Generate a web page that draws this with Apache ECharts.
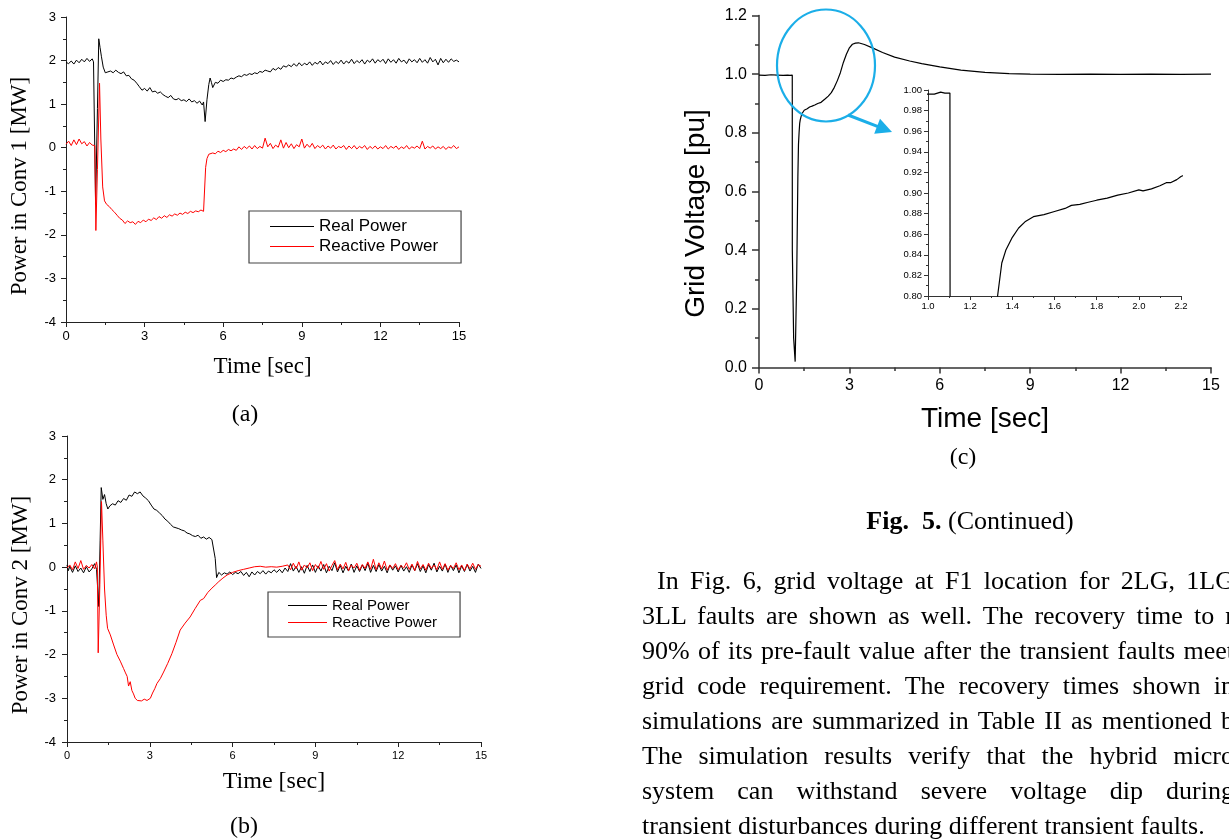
<!DOCTYPE html>
<html><head><meta charset="utf-8">
<script src="https://cdn.jsdelivr.net/npm/echarts@6/dist/echarts.min.js"></script>
<style>
html,body{margin:0;padding:0;background:#fff;overflow:hidden;width:1229px;height:839px;}
#chart{position:absolute;left:0;top:0;width:1229px;height:839px;}
.txt{position:absolute;font-family:'Liberation Serif','Times New Roman',serif;color:#000;white-space:nowrap;transform:translate(-50%,-50%);}
.cap{font-size:24px;line-height:24px;}
#para{position:absolute;left:642px;top:563px;width:592px;font-family:'Liberation Serif','Times New Roman',serif;font-size:26px;line-height:35px;color:#000;}
#para div{text-align:justify;text-align-last:justify;height:35px;}
#para div.first{text-indent:15px;}
#para div.last{text-align:left;text-align-last:left;}
</style></head>
<body>
<div id="chart"></div>
<div class="txt cap" style="left:245px;top:413px;">(a)</div>
<div class="txt cap" style="left:244px;top:825px;">(b)</div>
<div class="txt cap" style="left:963px;top:456px;">(c)</div>
<div class="txt" style="left:970px;top:521px;font-size:26px;line-height:26px;"><b>Fig.&nbsp; 5.</b> (Continued)</div>
<div id="para">
<div class="first">In Fig. 6, grid voltage at F1 location for 2LG, 1LG</div>
<div>3LL faults are shown as well. The recovery time to r</div>
<div>90% of its pre-fault value after the transient faults meet</div>
<div>grid code requirement. The recovery times shown in</div>
<div>simulations are summarized in Table II as mentioned b</div>
<div>The simulation results verify that the hybrid micro</div>
<div>system can withstand severe voltage dip during</div>
<div class="last">transient disturbances during different transient faults.</div>
</div>
<script>
// ---------- data (time [s], value) ----------
const realConv1 = [[0,1.96],[0.1,1.93],[0.2,1.99],[0.3,1.92],[0.4,2.01],[0.5,1.95],[0.6,2.03],[0.7,1.97],[0.8,2.05],[0.9,1.98],[1.0,2.04],[1.05,1.97],[1.10,1.96],[1.13,-1.30],[1.20,0.90],[1.25,2.50],[1.30,2.30],[1.35,2.10],[1.42,1.85],[1.50,1.72],[1.6,1.74],[1.7,1.76],[1.8,1.72],[1.9,1.78],[2.0,1.73],[2.1,1.70],[2.2,1.74],[2.3,1.65],[2.4,1.66],[2.5,1.58],[2.6,1.55],[2.7,1.48],[2.8,1.40],[2.9,1.32],[3.0,1.36],[3.1,1.30],[3.2,1.38],[3.3,1.28],[3.4,1.30],[3.5,1.25],[3.6,1.28],[3.7,1.22],[3.8,1.18],[3.9,1.15],[4.0,1.20],[4.1,1.12],[4.2,1.10],[4.3,1.13],[4.4,1.08],[4.5,1.10],[4.6,1.06],[4.7,1.12],[4.8,1.05],[4.9,1.08],[5.0,1.02],[5.1,1.07],[5.2,0.98],[5.25,1.05],[5.31,0.60],[5.38,1.10],[5.45,1.45],[5.5,1.60],[5.55,1.50],[5.6,1.38],[5.7,1.50],[5.8,1.48],[5.9,1.55],[6.0,1.52],[6.1,1.56],[6.2,1.55],[6.3,1.60],[6.4,1.58],[6.5,1.62],[6.6,1.65],[6.7,1.63],[6.8,1.68],[6.9,1.66],[7.0,1.70],[7.1,1.68],[7.2,1.72],[7.3,1.70],[7.4,1.75],[7.5,1.73],[7.6,1.78],[7.7,1.76],[7.8,1.74],[7.9,1.82],[8.0,1.78],[8.1,1.84],[8.2,1.80],[8.3,1.88],[8.4,1.85],[8.5,1.90],[8.6,1.86],[8.7,1.93],[8.8,1.87],[8.9,1.95],[9.0,1.88],[9.1,1.94],[9.2,1.90],[9.3,1.97],[9.4,1.89],[9.5,1.96],[9.6,1.92],[9.7,1.99],[9.8,1.90],[9.9,1.97],[10.0,1.93],[10.1,2.00],[10.2,1.91],[10.3,1.98],[10.4,1.93],[10.5,2.01],[10.6,1.92],[10.7,1.99],[10.8,1.94],[10.9,2.03],[11.0,1.93],[11.1,2.00],[11.2,1.95],[11.3,2.02],[11.4,1.92],[11.5,2.01],[11.6,1.96],[11.7,2.04],[11.8,1.94],[11.9,2.02],[12.0,1.97],[12.1,2.03],[12.2,1.93],[12.3,2.04],[12.4,1.96],[12.5,2.02],[12.6,1.94],[12.7,2.05],[12.8,1.97],[12.9,2.01],[13.0,1.93],[13.1,2.04],[13.2,1.97],[13.3,2.02],[13.4,1.95],[13.5,2.05],[13.6,1.96],[13.7,2.02],[13.8,1.94],[13.9,2.07],[14.0,1.97],[14.1,2.03],[14.2,1.90],[14.3,2.05],[14.4,1.95],[14.5,2.03],[14.6,1.96],[14.7,2.04],[14.8,1.98],[14.9,2.01],[15.0,1.97]];

const reactiveConv1 = [[0,0.08],[0.1,0.15],[0.2,0.05],[0.3,0.18],[0.4,0.07],[0.5,0.20],[0.6,0.09],[0.7,0.14],[0.8,0.04],[0.9,0.12],[1.0,0.06],[1.07,0.10],[1.10,0.05],[1.14,-1.90],[1.20,-0.50],[1.28,1.48],[1.33,0.20],[1.40,-0.90],[1.47,-1.22],[1.55,-1.30],[1.65,-1.35],[1.75,-1.42],[1.85,-1.48],[1.95,-1.55],[2.05,-1.62],[2.15,-1.66],[2.25,-1.74],[2.35,-1.68],[2.45,-1.72],[2.55,-1.70],[2.65,-1.76],[2.75,-1.69],[2.85,-1.72],[2.95,-1.66],[3.05,-1.70],[3.15,-1.64],[3.25,-1.67],[3.35,-1.61],[3.45,-1.65],[3.55,-1.58],[3.65,-1.62],[3.75,-1.56],[3.85,-1.60],[3.95,-1.54],[4.05,-1.57],[4.15,-1.52],[4.25,-1.55],[4.35,-1.50],[4.45,-1.53],[4.55,-1.48],[4.65,-1.51],[4.75,-1.46],[4.85,-1.49],[4.95,-1.45],[5.05,-1.47],[5.15,-1.43],[5.25,-1.46],[5.30,-1.45],[5.33,-0.45],[5.38,-0.25],[5.45,-0.15],[5.5,-0.18],[5.6,-0.12],[5.7,-0.14],[5.8,-0.08],[5.9,-0.11],[6.0,-0.06],[6.1,-0.09],[6.2,-0.04],[6.3,-0.07],[6.4,-0.03],[6.5,-0.06],[6.6,0.02],[6.7,-0.04],[6.8,0.03],[6.9,-0.02],[7.0,0.04],[7.1,-0.03],[7.2,0.05],[7.3,-0.02],[7.4,0.03],[7.5,-0.01],[7.6,0.22],[7.7,0.02],[7.8,0.10],[7.9,-0.02],[8.0,0.06],[8.1,0.01],[8.2,0.18],[8.3,-0.01],[8.4,0.12],[8.5,0.00],[8.6,0.09],[8.7,-0.02],[8.8,0.07],[8.9,0.02],[9.0,0.20],[9.1,-0.01],[9.2,0.08],[9.3,0.01],[9.4,0.10],[9.5,-0.02],[9.6,0.05],[9.7,0.00],[9.8,0.06],[9.9,-0.03],[10.0,0.04],[10.1,-0.01],[10.2,0.06],[10.3,-0.03],[10.4,0.03],[10.5,0.00],[10.6,0.05],[10.7,-0.04],[10.8,0.04],[10.9,-0.02],[11.0,0.05],[11.1,-0.03],[11.2,0.03],[11.3,-0.01],[11.4,0.05],[11.5,-0.04],[11.6,0.03],[11.7,-0.02],[11.8,0.04],[11.9,-0.03],[12.0,0.02],[12.1,-0.02],[12.2,0.05],[12.3,-0.03],[12.4,0.03],[12.5,-0.01],[12.6,0.04],[12.7,-0.04],[12.8,0.02],[12.9,-0.02],[13.0,0.05],[13.1,-0.03],[13.2,0.02],[13.3,-0.01],[13.4,0.04],[13.5,-0.02],[13.6,0.15],[13.7,-0.03],[13.8,0.03],[13.9,-0.01],[14.0,0.04],[14.1,-0.03],[14.2,0.02],[14.3,-0.02],[14.4,0.03],[14.5,-0.04],[14.6,0.02],[14.7,-0.01],[14.8,0.05],[14.9,-0.02],[15.0,0.02]];

const realConv2 = [[0,0.05],[0.05,-0.08],[0.1,0.02],[0.2,-0.12],[0.3,0.03],[0.4,-0.10],[0.5,-0.02],[0.6,-0.13],[0.7,0.01],[0.8,-0.11],[0.9,-0.04],[1.0,0.08],[1.07,-0.05],[1.10,-0.02],[1.15,-0.90],[1.20,0.60],[1.24,1.82],[1.30,1.55],[1.36,1.66],[1.42,1.45],[1.48,1.33],[1.55,1.40],[1.65,1.45],[1.75,1.42],[1.85,1.52],[1.95,1.48],[2.05,1.57],[2.15,1.53],[2.25,1.65],[2.35,1.62],[2.45,1.72],[2.55,1.68],[2.65,1.72],[2.75,1.63],[2.85,1.58],[2.95,1.52],[3.05,1.42],[3.15,1.33],[3.25,1.30],[3.35,1.24],[3.45,1.18],[3.55,1.10],[3.65,1.05],[3.75,0.98],[3.85,0.92],[3.95,0.90],[4.05,0.88],[4.15,0.85],[4.25,0.83],[4.35,0.78],[4.45,0.76],[4.55,0.72],[4.65,0.70],[4.75,0.73],[4.85,0.66],[4.95,0.69],[5.05,0.64],[5.15,0.68],[5.25,0.63],[5.32,0.66],[5.37,0.20],[5.42,-0.24],[5.5,-0.12],[5.6,-0.18],[5.7,-0.13],[5.8,-0.16],[5.9,-0.11],[6.0,-0.17],[6.1,-0.12],[6.2,-0.15],[6.3,-0.10],[6.4,-0.19],[6.5,-0.12],[6.6,-0.22],[6.7,-0.11],[6.8,-0.18],[6.9,-0.10],[7.0,-0.15],[7.1,-0.08],[7.2,-0.16],[7.3,-0.09],[7.4,-0.13],[7.5,-0.06],[7.6,-0.12],[7.7,-0.05],[7.8,-0.13],[7.9,-0.02],[8.0,-0.10],[8.1,0.08],[8.2,-0.09],[8.3,0.02],[8.4,-0.12],[8.5,0.01],[8.6,-0.14],[8.7,0.04],[8.8,-0.10],[8.9,0.05],[9.0,-0.12],[9.1,0.03],[9.2,-0.09],[9.3,0.06],[9.4,-0.13],[9.5,0.02],[9.6,-0.08],[9.7,0.10],[9.8,-0.11],[9.9,0.04],[10.0,-0.13],[10.1,0.02],[10.2,-0.09],[10.3,0.07],[10.4,-0.12],[10.5,0.03],[10.6,-0.10],[10.7,0.05],[10.8,-0.08],[10.9,0.09],[11.0,-0.12],[11.1,0.04],[11.2,-0.10],[11.3,0.06],[11.4,-0.09],[11.5,0.02],[11.6,-0.13],[11.7,0.05],[11.8,-0.07],[11.9,0.03],[12.0,-0.11],[12.1,0.04],[12.2,-0.09],[12.3,0.01],[12.4,-0.12],[12.5,0.05],[12.6,-0.08],[12.7,0.08],[12.8,-0.10],[12.9,0.03],[13.0,-0.13],[13.1,0.06],[13.2,-0.07],[13.3,0.09],[13.4,-0.11],[13.5,0.02],[13.6,-0.09],[13.7,0.07],[13.8,-0.12],[13.9,0.04],[14.0,-0.08],[14.1,0.05],[14.2,-0.13],[14.3,0.03],[14.4,-0.10],[14.5,0.06],[14.6,-0.09],[14.7,0.02],[14.8,-0.12],[14.9,0.07],[15.0,-0.03]];

const reactiveConv2 = [[0,-0.02],[0.1,0.05],[0.2,-0.06],[0.3,0.12],[0.4,-0.03],[0.5,0.15],[0.6,-0.05],[0.7,0.04],[0.8,-0.02],[0.9,0.06],[1.0,-0.04],[1.07,0.12],[1.10,0.00],[1.13,-1.96],[1.19,-0.40],[1.25,1.50],[1.30,0.60],[1.36,-0.50],[1.42,-1.10],[1.47,-1.40],[1.57,-1.55],[1.69,-1.78],[1.81,-2.00],[1.93,-2.15],[2.05,-2.32],[2.12,-2.42],[2.18,-2.50],[2.23,-2.72],[2.29,-2.62],[2.35,-2.82],[2.41,-2.90],[2.47,-3.00],[2.55,-3.05],[2.62,-3.02],[2.70,-3.06],[2.80,-3.02],[2.90,-3.05],[3.02,-3.00],[3.10,-2.88],[3.18,-2.78],[3.26,-2.66],[3.38,-2.55],[3.50,-2.40],[3.65,-2.20],[3.80,-1.98],[3.95,-1.72],[4.10,-1.44],[4.28,-1.28],[4.46,-1.14],[4.64,-0.95],[4.83,-0.76],[4.95,-0.72],[5.10,-0.58],[5.25,-0.48],[5.37,-0.41],[5.50,-0.33],[5.65,-0.25],[5.80,-0.18],[6.0,-0.12],[6.2,-0.08],[6.4,-0.05],[6.6,-0.02],[6.8,0.01],[7.0,0.02],[7.2,0.00],[7.4,0.01],[7.6,0.00],[7.8,0.02],[8.0,0.05],[8.1,-0.06],[8.2,0.09],[8.3,-0.04],[8.4,0.12],[8.5,-0.07],[8.6,0.05],[8.7,-0.02],[8.8,0.10],[8.9,-0.08],[9.0,0.06],[9.1,-0.03],[9.2,0.13],[9.3,-0.05],[9.4,0.08],[9.5,-0.09],[9.6,0.04],[9.7,0.15],[9.8,-0.06],[9.9,0.07],[10.0,-0.04],[10.1,0.11],[10.2,-0.08],[10.3,0.05],[10.4,-0.02],[10.5,0.09],[10.6,-0.07],[10.7,0.06],[10.8,-0.03],[10.9,0.12],[11.0,-0.05],[11.1,0.18],[11.2,-0.06],[11.3,0.10],[11.4,-0.04],[11.5,0.14],[11.6,-0.07],[11.7,0.05],[11.8,-0.03],[11.9,0.08],[12.0,-0.06],[12.1,0.04],[12.2,-0.02],[12.3,0.10],[12.4,-0.05],[12.5,0.07],[12.6,-0.08],[12.7,0.13],[12.8,-0.04],[12.9,0.06],[13.0,-0.07],[13.1,0.09],[13.2,-0.03],[13.3,0.05],[13.4,-0.06],[13.5,0.12],[13.6,-0.05],[13.7,0.08],[13.8,-0.07],[13.9,0.04],[14.0,-0.03],[14.1,0.10],[14.2,-0.06],[14.3,0.05],[14.4,-0.08],[14.5,0.07],[14.6,-0.04],[14.7,0.09],[14.8,-0.05],[14.9,0.06],[15.0,0.02]];

const gridVoltage = [[0,0.997],[0.2,0.996],[0.4,0.998],[0.6,0.997],[0.8,0.996],[0.95,0.997],[1.0,0.996],[1.03,0.996],[1.06,0.998],[1.08,0.997],[1.104,0.997],[1.106,0.40],[1.15,0.10],[1.20,0.02],[1.25,0.30],[1.29,0.65],[1.31,0.76],[1.33,0.80],[1.35,0.832],[1.37,0.845],[1.40,0.857],[1.43,0.866],[1.46,0.872],[1.50,0.877],[1.55,0.879],[1.60,0.882],[1.65,0.885],[1.68,0.888],[1.72,0.889],[1.76,0.891],[1.80,0.893],[1.85,0.895],[1.90,0.898],[1.95,0.900],[2.00,0.903],[2.02,0.902],[2.06,0.904],[2.10,0.907],[2.13,0.910],[2.15,0.910],[2.18,0.913],[2.20,0.916],[2.3,0.925],[2.4,0.937],[2.5,0.955],[2.6,0.978],[2.7,1.005],[2.8,1.040],[2.9,1.068],[3.0,1.090],[3.1,1.102],[3.2,1.106],[3.3,1.107],[3.5,1.101],[3.8,1.088],[4.1,1.074],[4.5,1.058],[5.0,1.045],[5.4,1.036],[6.0,1.025],[6.7,1.014],[7.5,1.006],[8.3,1.002],[9.0,1.000],[10,0.999],[11,1.000],[12,0.999],[13,1.000],[14,0.999],[15,1.000]];

const legendNames = ['Real Power', 'Reactive Power'];
const timeTicks = {min:0, max:15, interval:3};

// ---------- chart ----------
const SANS = "'Liberation Sans', Arial, sans-serif";
const SERIF = "'Liberation Serif', 'Times New Roman', serif";

function mkAxis(gridIndex, min, max, interval, o) {
  return {
    type:'value', gridIndex, min, max, interval,
    axisLine:{show:true, onZero:false, lineStyle:{color:o.lc, width:o.lw}},
    axisTick:{show:true, inside:false, length:o.tick, lineStyle:{color:o.lc, width:o.lw}},
    minorTick:{show:true, splitNumber:2, length:o.minor, lineStyle:{color:o.lc, width:o.lw}},
    splitLine:{show:false}, minorSplitLine:{show:false},
    axisLabel:{show:true, margin:o.margin, fontSize:o.fs, fontFamily:SANS, color:'#000',
      formatter:o.fmt || (v => String(Math.round(v*1000)/1000)), showMinLabel:true, showMaxLabel:true},
    name:o.name || '', nameLocation:'middle', nameGap:o.gap || 0, nameRotate:o.rot || 0,
    nameTextStyle:{fontFamily:o.nf || SERIF, fontSize:o.ns || 12, color:'#000', padding:o.pad || 0}
  };
}
const abStyle = {lc:'#222', lw:1, tick:5, minor:3};
const f1 = v => v.toFixed(1), f2 = v => v.toFixed(2);

const xAxes = [
  mkAxis(0, timeTicks.min, timeTicks.max, timeTicks.interval, Object.assign({}, abStyle, {margin:8, fs:13, name:'Time [sec]', gap:33, ns:23})),
  mkAxis(1, timeTicks.min, timeTicks.max, timeTicks.interval, Object.assign({}, abStyle, {margin:8, fs:11, name:'Time [sec]', gap:28, ns:24})),
  mkAxis(2, timeTicks.min, timeTicks.max, timeTicks.interval, {lc:'#333', lw:1.5, tick:6, minor:3.5, margin:10, fs:16, name:'Time [sec]', gap:38, ns:28, nf:SANS}),
  mkAxis(3, 1.0, 2.2, 0.2, {lc:'#333', lw:1, tick:4, minor:2, margin:5, fs:9.5, fmt:f1})
];
const yAxes = [
  mkAxis(0, -4, 3, 1, Object.assign({}, abStyle, {margin:10, fs:13, name:'Power in Conv 1 [MW]', gap:35, ns:23, rot:90, pad:[0,33,0,0]})),
  mkAxis(1, -4, 3, 1, Object.assign({}, abStyle, {margin:11, fs:13, name:'Power in Conv 2 [MW]', gap:35, ns:23, rot:90, pad:[0,32,0,0]})),
  mkAxis(2, 0, 1.2, 0.2, {lc:'#333', lw:1.5, tick:7, minor:4, margin:12, fs:16, fmt:f1, name:'Grid Voltage [pu]', gap:49, ns:28, nf:SANS, rot:90, pad:[0,44,0,0]}),
  mkAxis(3, 0.8, 1.0, 0.02, {lc:'#333', lw:1, tick:4, minor:2, margin:6, fs:9.5, fmt:f2})
];

function line(name, data, xi, color, w) {
  return {type:'line', name, data, xAxisIndex:xi, yAxisIndex:xi, symbol:'none', showSymbol:false,
    lineStyle:{color, width:w}, itemStyle:{color}, clip:true, animation:false, silent:true};
}

const cyan = '#1BAEE8';
const option = {
  animation:false,
  backgroundColor:'#fff',
  grid:[
    {left:66, top:17, width:393, height:305, containLabel:false, outerBoundsMode:'none'},
    {left:67, top:436, width:414, height:306, containLabel:false, outerBoundsMode:'none'},
    {left:759, top:15.5, width:452, height:352, containLabel:false, outerBoundsMode:'none'},
    {left:928, top:90, width:253, height:206, containLabel:false, outerBoundsMode:'none'}
  ],
  xAxis:xAxes,
  yAxis:yAxes,
  legend:[
    {data:legendNames, icon:'rect', orient:'vertical', left:249, top:211, padding:[7,23,8,21], itemGap:3,
     itemWidth:44, itemHeight:1.2, borderColor:'#444', borderWidth:1.2, backgroundColor:'#fff',
     selectedMode:false, textStyle:{fontFamily:SANS, fontSize:17, lineHeight:17, color:'#000'}},
    {data:legendNames, icon:'rect', orient:'vertical', left:268, top:592, padding:[6,23,7,20], itemGap:2,
     itemWidth:39, itemHeight:1.2, borderColor:'#444', borderWidth:1.2, backgroundColor:'#fff',
     selectedMode:false, textStyle:{fontFamily:SANS, fontSize:15, lineHeight:15, color:'#000'}}
  ],
  series:[
    line(legendNames[0], realConv1, 0, '#000', 1),
    line(legendNames[1], reactiveConv1, 0, '#ff0000', 1),
    line(legendNames[0], realConv2, 1, '#000', 1),
    line(legendNames[1], reactiveConv2, 1, '#ff0000', 1),
    line('Grid Voltage', gridVoltage, 2, '#000', 1.2),
    line('Grid Voltage (zoom)', gridVoltage, 3, '#000', 1.2)
  ],
  graphic:[
    {type:'ellipse', shape:{cx:826, cy:65.5, rx:49, ry:56}, style:{fill:'none', stroke:cyan, lineWidth:2.2}, z:100},
    {type:'line', shape:{x1:848, y1:115, x2:878, y2:126.6}, style:{stroke:cyan, lineWidth:3}, z:100},
    {type:'polygon', shape:{points:[[892,132],[874.2,133.7],[880,118.7]]}, style:{fill:cyan}, z:100}
  ]
};
const chart = echarts.init(document.getElementById('chart'), null, {renderer:'canvas'});
chart.setOption(option);
</script>
</body></html>
